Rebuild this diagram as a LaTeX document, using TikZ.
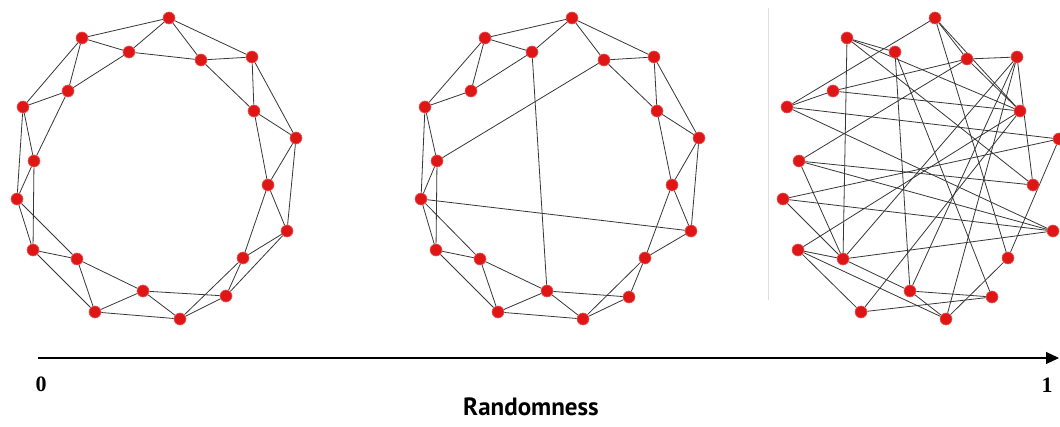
\documentclass[tikz,border=0pt]{standalone}
\usepackage{fontspec}
\newfontfamily\labfont{PT Sans}
\newfontfamily\digfont{Liberation Serif}
\usetikzlibrary{backgrounds,arrows.meta}
\definecolor{dotred}{RGB}{222,22,22}
\definecolor{edgegray}{RGB}{55,55,55}
\tikzset{
  dot/.style={circle,fill=dotred,draw=dotred!70!white,line width=0.6pt,inner sep=0pt,minimum size=12pt},
  link/.style={draw=edgegray,line width=0.8pt},
  axis/.style={draw=black,line width=1.1pt,-{Triangle[length=13pt,width=12pt]}},
  ticklab/.style={font=\digfont\bfseries\fontsize{22}{22}\selectfont},
  axlab/.style={font=\labfont\bfseries\fontsize{25}{25}\selectfont}
}
\begin{document}
\begin{tikzpicture}[x=1pt,y=-1pt]
\useasboundingbox (0,0) rectangle (1060,427);
% graph 1 (regular ring lattice)
\foreach \i/\x/\y in {0/169/18,1/201/60,2/252/57,3/254/111,4/296/138,5/268/185,6/287/231,7/243/258,8/226/296,9/180/319,10/143/291,11/95/312,12/77/259,13/33/250,14/17/199,15/34/161,16/23/107,17/68/91,18/82/38,19/129/52}
  \node[dot] (a\i) at (\x,\y) {};
% graph 2 (small world)
\foreach \i/\x/\y in {0/572/18,1/604/60,2/654/57,3/657/111,4/699/138,5/672/185,6/691/231,7/645/258,8/629/297,9/583/319,10/547/291,11/498/312,12/480/259,13/436/250,14/421/199,15/437/161,16/425/107,17/471/91,18/485/38,19/532/52}
  \node[dot] (b\i) at (\x,\y) {};
% graph 3 (random)
\foreach \i/\x/\y in {0/935/18,1/967/59,2/1017/57,3/1020/111,4/1059/139,5/1033/185,6/1053/231,7/1008/258,8/992/297,9/946/319,10/910/291,11/861/312,12/843/259,13/798/250,14/783/199,15/799/161,16/787/107,17/833/91,18/847/38,19/895/52}
  \node[dot] (c\i) at (\x,\y) {};
\begin{scope}[on background layer]
  \fill[white] (0,0) rectangle (1060,427);
  \foreach \i in {0,...,19}{
    \pgfmathtruncatemacro\j{mod(\i+1,20)}
    \pgfmathtruncatemacro\k{mod(\i+2,20)}
    \draw[link] (a\i) -- (a\j);
    \draw[link] (a\i) -- (a\k);
    \draw[link] (b\i) -- (b\j);
  }
  \foreach \i/\k in {0/2,1/3,2/4,3/5,4/6,5/7,7/9,8/10,9/11,10/12,11/13,12/14,13/15,14/16,16/18,17/19,18/0,19/10,15/1,6/14}
    \draw[link] (b\i) -- (b\k);
  \foreach \i/\k in {0/16,0/1,0/3,0/7,18/19,18/12,18/3,18/5,19/10,19/8,17/16,17/1,17/3,16/4,1/2,1/3,2/5,2/9,2/10,15/12,15/5,15/1,15/6,14/4,14/6,14/12,13/12,13/11,13/9,11/8,13/3,12/6,12/10,12/2,11/3,10/8,10/9,9/7,7/4,16/6}
    \draw[link] (c\i) -- (c\k);
  \draw[gray!25,line width=0.6pt] (768,8) -- (768,300);
\end{scope}
% axis
\coordinate (ax0) at (38,358);
\coordinate (ax1) at (1059,358);
\draw[axis] (ax0) -- (ax1);
\node[ticklab] (zero) at (41,384) {0};
\node[ticklab] (one) at (1047,385) {1};
\node[axlab] (rnd) at (531,407) {Randomness};
\end{tikzpicture}
\end{document}
